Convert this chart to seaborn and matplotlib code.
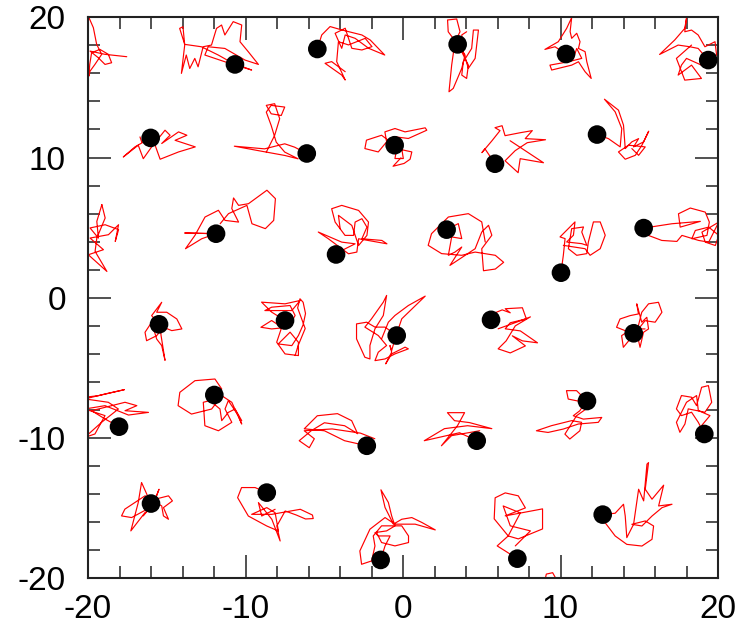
import matplotlib
matplotlib.use("Agg")
import matplotlib.pyplot as plt
import seaborn as sns
import pandas as pd
from matplotlib.ticker import MultipleLocator

# particle positions (data units)
particle_x = [-10.67, -5.44, 3.47, 10.35, 19.38, -16.02, -6.11, -0.53, 5.84, 12.32,
              -11.87, -4.25, 2.77, 10.03, 15.28, -15.49, -7.49, -0.40, 5.59, 14.65,
              -11.98, -18.03, -2.30, 4.68, 11.68, 19.13, -16.00, -8.65, -1.42, 7.26, 12.68]
particle_y = [16.64, 17.74, 18.07, 17.38, 16.95, 11.40, 10.29, 10.88, 9.56, 11.64,
              4.57, 3.09, 4.86, 1.79, 4.97, -1.89, -1.62, -2.69, -1.57, -2.53,
              -6.93, -9.19, -10.55, -10.19, -7.36, -9.71, -14.67, -13.89, -18.69, -18.60, -15.46]

# trajectories: displacement of each particle from its marked position
path_01 = [(0,0),(-1.06,0.67),(-2.13,1.26),(-3.19,1.43),(-3.51,2.57),(-3.30,2.69),(-3.19,1.38),(-3.40,-0.64),(-3.09,0.67),(-2.87,-0.29),(-2.55,0.43),(-2.34,-0.17),(-2.02,1.26),(-1.49,1.38),(-1.17,2.57),(-0.85,2.81),(-0.64,2.10),(-0.11,3.05),(0.43,2.81),(0.32,1.62),(0.85,0.90),(1.49,0),(0.64,0.31),(-0.64,1.14),(-1.70,1.26),(-1.91,0.67),(-0.64,0.19),(1.06,-0.40),(0.21,-0.05)]
path_02 = [(0,0),(0.28,1.0),(0.81,1.6),(1.55,1.36),(2.83,1.0),(3.36,0.64),(4.28,-0.43),(3.26,0.05),(2.40,0.76),(1.77,1.0),(1.55,0.05),(1.13,1.12),(1.77,1.48),(2.19,0.05),(2.83,-0.07),(3.47,0.17),(3.04,0.76),(1.98,0.29),(1.34,0.52),(1.23,-0.9),(1.77,-2.21),(1.55,-1.86),(0.49,-1.02),(0.91,-0.90),(1.77,-1.62)]
path_03 = [(0,0),(-0.60,0.90),(-0.64,1.74),(-0.06,1.81),(0.15,0.90),(-0.17,0.19),(-0.38,-1.48),(-0.55,-3.38),(-0.28,-3.14),(0.26,-1.71),(0.47,-0.76),(0.15,-0.29),(0.68,-1.48),(0.57,-2.43),(0.26,-2.19),(0.36,-1.24),(0.89,-0.29),(1.0,1.02),(1.32,1.02),(1.11,-1.0),(0.68,-1.71),(0.36,-0.52),(0.26,0.67),(0.57,0.90)]
path_04 = [(0,0),(-0.70,0.52),(-1.34,0.33),(-0.49,0.88),(0.04,1.83),(0.36,2.6),(0.26,1.6),(0.36,1.12),(0.68,1.48),(0.89,0.88),(0.79,0.40),(1.21,0.17),(1.32,-0.55),(1.60,-1.74),(1.21,-1.26),(0.79,-0.55),(0.36,-0.79),(-0.91,-1.14),(-1.02,-0.79),(0.15,-0.55),(1.0,-0.31),(0.68,0.40),(0.47,-0.31)]
path_05 = [(0,0),(-0.64,0.83),(-1.17,0.95),(-1.91,1.07),(-3.09,0.40),(-2.13,1.43),(-1.49,2.26),(-1.38,2.98),(-1.49,2.02),(-1.06,2.14),(-0.64,1.79),(-0.21,0.95),(0.43,1.31),(0.53,0.36),(-0.21,-0.12),(-0.43,-0.36),(-1.38,0.12),(-1.70,-0.36),(-1.91,-1.07),(-1.06,-0.36),(-0.43,-1.31),(-1.49,-1.43),(-2.02,0.12),(-1.06,1.07)]
path_06 = [(0,0),(-1.0,-0.64),(-1.74,-1.36),(-0.79,-0.52),(-0.47,-1.48),(0.06,-0.64),(0.91,0.55),(1.23,0.19),(0.70,-0.40),(1.77,0.43),(2.30,0.19),(1.55,-0.17),(2.83,-0.64),(1.77,-1.0),(0.60,-1.52),(0.28,-0.52),(-0.57,-0.29),(-0.68,0.07)]
path_07 = [(0,0),(-0.77,0.45),(-1.40,0.69),(-2.68,0.33),(-4.6,0.52),(-3.11,0.21),(-1.40,-0.14),(-0.55,-0.38),(-1.40,0.10),(-1.94,0.81),(-2.26,2.0),(-2.57,2.95),(-2.26,3.43),(-1.40,3.31),(-1.62,2.71),(-2.26,2.83),(-2.57,3.43),(-2.04,3.55),(-1.72,2.48),(-2.04,1.29),(-2.57,0.10)]
path_08 = [(0,0),(-0.83,0.71),(-1.79,0.36),(-1.89,-0.24),(-1.04,-0.48),(-0.51,0.24),(-0.62,0.95),(0.02,1.19),(0.66,0.95),(1.94,1.24),(2.04,1.07),(0.87,0.48),(0.02,0.60),(0.45,-0.24),(0.55,-0.95),(0.02,-0.95),(0.13,-0.24),(1.09,-0.48),(0.98,-1.0),(0.6,-1.3),(-0.1,-1.5),(0.4,-0.9)]
path_09 = [(0,0),(-0.64,1.07),(-0.83,0.79),(-0.19,1.64),(0.32,2.36),(0,2.57),(0.45,2.71),(0.64,2.0),(1.60,2.21),(2.37,2.36),(1.92,1.79),(3.21,1.71),(2.05,1.50),(1.28,0.93),(0.64,0.21),(1.47,-0.64),(1.60,0.36),(3.08,0.07),(1.92,0.93),(0.96,1.64)]
path_10 = [(0,0),(0.72,-0.29),(1.47,-0.88),(1.57,0.43),(1.15,1.62),(0.47,2.52),(1.36,1.74),(1.68,0.67),(1.79,-1.0),(2.21,-0.52),(2.64,-0.29),(2.32,-0.88),(2.96,-0.52),(3.28,0.24),(2.85,-0.76),(2.43,-1.48),(1.79,-1.76),(1.36,-1.24),(2.0,-0.76),(3.06,-0.88),(2.64,-1.48),(2.21,-1.0)]
path_11 = [(0,0),(-1.98,0.05),(0,0),(-0.91,-0.36),(-1.94,-1.07),(-1.34,-0.12),(-0.70,1.19),(0.15,1.67),(0.57,0.95),(1.43,0.83),(1.0,1.79),(1.11,2.55),(1.43,2.02),(2.06,2.14),(3.23,3.10),(3.77,2.50),(3.66,0.95),(3.13,0.36),(2.28,0.71),(1.96,2.02),(0.79,1.43),(0.26,0.71)]
path_12 = [(0,0),(0.57,0.40),(1.21,0.76),(0.36,0.88),(-1.13,1.60),(-0.49,1.12),(0.79,0.05),(1.32,0.17),(1.43,1.12),(3.23,0.76),(2.91,1.0),(1.64,1.12),(1.96,1.95),(1.64,2.55),(1.21,2.31),(1.11,1.36),(0.57,1.36),(-0.06,2.31),(-0.28,3.26),(0.36,3.50),(1.43,3.14),(2.06,2.31),(1.96,1.36),(1.43,0.64),(1.0,2.07),(0.15,2.79),(0.26,1.83)]
path_13 = [(0,0),(0.74,0.43),(0.96,-0.64),(0.32,-0.52),(0.11,-1.83),(0.53,-1.60),(0.96,-1.24),(0.21,-2.55),(1.81,-1.36),(2.23,-0.17),(2.66,0.31),(2.87,-0.40),(2.23,-1.36),(2.34,-2.93),(3.09,-2.81),(3.62,-2.33),(3.09,-1.83),(1.81,-1.60),(0.96,-1.83),(-0.32,-1.71),(-1.17,-1.12),(-0.96,-0.29),(0.11,0.90),(1.38,1.14),(2.23,0.55),(2.45,-0.88)]
path_14 = [(0,0),(0.15,1.24),(0.26,2.43),(-0.06,2.55),(0.57,3.26),(0.89,3.62),(0.79,2.67),(0.36,2.19),(1.32,2.07),(1.64,1.95),(1.32,2.90),(1.43,3.26),(0.68,3.14),(0.47,1.71),(1.0,1.24),(1.64,1.36),(1.74,2.19),(2.06,3.62),(2.49,3.62),(2.81,2.67),(2.49,1.71),(1.85,1.24),(1.53,1.71),(0.15,1.95)]
path_15 = [(0,0),(1.79,0.31),(3.60,0.48),(2.32,0.07),(2.21,1.02),(2.96,1.43),(3.91,1.14),(4.17,0.43),(4.02,-0.52),(3.06,-0.76),(3.28,-0.17),(4.13,0.07),(4.77,-0.52),(4.55,-1.24),(3.91,-1.0),(3.70,-0.29),(4.77,0.43),(4.13,-1.0),(3.49,-0.88),(2.43,-0.52),(2.11,-0.95),(1.15,-0.88),(0.30,-0.52)]
path_16 = [(0,0),(-0.47,0.62),(0.17,1.57),(-0.15,0.86),(0.49,0.86),(1.13,0.38),(1.45,-0.33),(0.81,-0.45),(0.28,-0.21),(-0.15,-0.81),(-0.79,-1.17),(-0.89,-0.57),(-0.47,0.14),(-0.15,-1.05),(0.17,-1.52),(0.38,-2.57),(0.13,-0.81),(0.06,-0.10)]
path_17 = [(0,0),(-0.85,0.60),(-1.49,1.31),(0,1.19),(0.96,1.43),(0.43,0.71),(-1.28,0.71),(-0.85,0.95),(0.32,1.07),(0.64,0.36),(0.21,-0.48),(-0.85,-0.60),(-1.53,-0.48),(-0.85,0),(-0.21,-0.48),(-0.53,-1.55),(0,-2.38),(0.85,-2.50),(0.85,-1.55),(0.32,-0.83),(-0.43,-1.67),(0.43,-1.79),(0.85,-1.07),(1.15,-0.3),(1.3,0.5),(1.15,1.3),(0.95,1.55),(0.8,0.9),(1.28,-0.57),(0.83,-1.79),(0.64,-2.5)]
path_18 = [(0,0),(-0.74,0.60),(-1.38,0.60),(-1.91,0.95),(-2.55,0.83),(-2.55,-0.24),(-2.02,-1.55),(-1.70,-1.67),(-1.70,-0.71),(-1.38,0.48),(-0.85,1.43),(-0.64,2.86),(-0.85,2.38),(-1.60,1.19),(-2.02,0.60),(-1.17,0),(-0.64,-0.71),(-1.17,-1.19),(-1.38,-1.79),(-0.74,-1.67),(-0.11,-1.31),(0.74,-0.95),(0.53,-0.83),(-0.32,-1.31),(-0.70,-2.02),(-0.32,-1.19),(-0.43,-0.71),(-0.32,-1.07),(-0.11,-0.24),(0.32,1.19),(1.81,2.81),(0.74,2.14),(-0.11,1.43),(-0.53,0.95),(-0.96,-0.24)]
path_19 = [(0,0),(-0.51,-0.21),(0.26,0.50),(0.71,0.71),(1.22,0.50),(0.90,0.79),(1.99,0.86),(2.24,0.07),(1.22,-0.21),(0.90,-0.64),(1.86,-0.79),(2.95,-1.64),(1.99,-1.50),(1.35,-1.14),(2.18,-1.86),(1.22,-2.36),(0.45,-2.07),(0.96,-1.50),(1.54,-0.43),(2.50,0.21),(1.86,-0.07),(0.45,-0.64)]
path_20 = [(0,0),(-0.55,0.19),(-1.09,0.43),(-0.87,1.02),(-0.23,1.26),(0.30,1.38),(0.19,2.10),(0.51,0.79),(0.83,1.14),(0.94,0.31),(0.62,0.07),(0.40,-1.0),(0.19,0.07),(0.51,1.50),(0.94,2.10),(1.57,2.21),(1.79,1.50),(1.36,0.79),(0.72,0.90),(0.30,0.31),(-0.66,-1.0),(-0.77,-0.17),(-0.13,0.31),(0.72,0.31)]
path_21 = [(0,0),(0.47,0.43),(0.04,1.14),(-1.23,1.02),(-2.19,0.19),(-2.30,-0.76),(-1.45,-1.36),(-0.17,-1.0),(0.47,-0.05),(1.11,-0.52),(1.74,-2.07),(1.53,-1.48),(0.89,-0.40),(0.68,-1.0),(1.11,-1.95),(0.26,-2.55),(-0.60,-2.19),(-0.70,-0.52),(-0.28,-0.40),(0.36,-1.0),(0.47,-1.83),(0.89,-1.24),(1.32,-1.0),(1.74,-1.83)]
path_22 = [(0,0),(-0.89,0.55),(-1.74,1.14),(0.38,1.74),(1.13,1.50),(0.38,1.14),(1.87,1.02),(0.60,0.83),(-0.89,1.50),(-2.17,1.26),(-0.89,0.79),(-1.53,-0.52),(-2.17,-0.76),(-1.11,0.31),(-0.04,1.26),(-0.68,1.74),(-2.17,1.98),(-0.89,2.33),(0.34,2.64),(-1.32,2.21),(-2.17,2.10)]
path_23 = [(0,0),(-1.41,0.36),(-2.69,1.07),(-3.97,1.21),(-3.14,2.14),(-1.86,2.29),(-0.96,1.79),(-0.58,0.86),(-1.41,1.43),(-2.69,1.64),(-3.53,1.07),(-4.29,0.36),(-3.65,-0.14),(-3.33,0.50),(-3.97,1.07),(-2.2,1.2),(-0.4,0.9),(0.51,0.5)]
path_24 = [(0,0),(-1.09,0.57),(-3.33,0),(-2.05,0.86),(-0.58,1.07),(0.96,0.86),(-0.45,1.29),(-1.41,1.43),(-1.86,2.0),(-0.77,2.0),(-1.22,1.07),(-2.24,-0.36),(-1.60,0.36),(0.19,0.71)]
path_25 = [(0,0),(-0.66,0.74),(-1.30,0.74),(-1.19,0.14),(-0.13,-0.10),(-0.45,-0.69),(-0.87,-1.05),(-0.23,-1.29),(0.94,-1.17),(0.72,-1.52),(-0.55,-1.64),(-1.51,-2.0),(-2.47,-2.24),(-3.21,-2.12),(-2.26,-1.76),(-0.98,-1.40),(-0.34,-1.52),(-0.45,-2.12),(-1.09,-2.71),(-1.40,-2.36),(-0.66,-1.05),(0.09,-0.45)]
path_26 = [(0,0),(-0.38,0.83),(-0.81,1.55),(-1.45,1.31),(-1.77,1.79),(-1.45,2.74),(-0.81,2.62),(-0.49,2.02),(-0.17,3.33),(0.26,3.45),(0.47,2.26),(0.04,1.55),(-1.02,1.79),(-1.23,0.71),(-1.55,0.12),(-1.77,0.83),(-1.13,2.26),(-0.49,2.74),(-0.38,1.67),(0.36,1.31),(-0.17,0.60)]
path_27 = [(0,0),(-0.60,1.50),(-0.81,0.07),(-1.28,-1.95),(-0.38,-0.64),(0.04,-0.40),(0.51,1.02),(0.26,0.31),(1.11,0.55),(1.36,0.19),(0.79,-0.29),(1.11,-1.12),(0.79,-0.88),(0.68,-0.17),(-0.38,0.55),(-1.66,-0.40),(-1.87,-0.88),(-1.23,-1.0),(-0.06,-0.29),(-0.49,-0.88)]
path_28 = [(0,0),(-0.74,0.36),(-1.60,0.36),(-1.85,-0.36),(-1.17,-1.67),(0,-2.38),(0.74,-2.74),(0.53,-1.43),(0,-1.07),(-0.96,-1.55),(0.32,-1.55),(2.13,-1.19),(2.9,-1.6),(2.95,-1.85),(2.46,-1.88),(1.88,-1.6),(1.17,-1.31),(0.64,-2.38),(0.85,-3.45),(0.32,-1.90),(-0.53,-0.71),(-0.32,-1.67),(0.53,-1.19)]
path_29 = [(0,0),(0.28,1.0),(0.60,1.71),(-0.15,1.71),(-0.36,1.95),(0.38,2.07),(0.91,2.43),(0.70,3.14),(0.49,4.10),(0.02,5.0),(0.28,3.74),(0.81,2.55),(1.34,2.90),(1.98,3.02),(2.62,2.67),(3.47,2.14),(2.19,2.55),(0.91,2.55),(0.28,3.02),(-0.68,2.19),(-1.32,0.64),(-1.21,-0.31),(-0.57,-0.07),(-0.36,1.0),(-0.47,1.71),(0.06,2.43),(1.34,2.43),(1.77,1.71),(1.77,1.24),(0.91,1.0),(0.06,1.24),(-0.26,1.95)]
path_30 = [(0,0),(-0.77,0.55),(-1.28,0.91),(-0.58,1.62),(-1.47,2.84),(-1.41,4.34),(-0.77,4.69),(0.06,4.48),(0.51,3.62),(-0.77,3.05),(1.60,3.55),(1.60,2.12),(0.06,1.41),(-0.58,1.62),(0.19,3.26),(-0.90,3.76),(-0.45,2.34),(0.83,1.98),(-0.13,0.91)]
path_31 = [(0,0),(0.79,0.10),(1.32,0.74),(1.43,-0.10),(1.53,-1.64),(1.96,-0.69),(2.28,1.81),(2.60,0.98),(2.81,3.60),(2.91,3.71),(2.70,1.81),(3.13,1.10),(3.87,2.10),(3.55,0.62),(4.40,0.74),(3.77,0.50),(3.13,-0.10),(2.49,-0.81),(1.85,-0.69),(2.70,-0.45),(3.23,-0.81),(3.13,-1.76),(2.49,-2.24),(1.53,-2.12),(0.79,-1.52),(0.15,-0.57)]

# track pieces that re-enter through the box edges (absolute data coords)
edge_top_left = [(-19.94,19.98),(-19.66,19.26),(-19.45,18.07),(-19.13,17.36),(-19.56,16.64),(-19.87,16.16),(-19.94,15.81),(-19.89,16.64),(-19.77,17.48),(-19.24,17.71),(-18.71,17.36),(-18.50,16.76),(-18.92,16.64),(-19.35,17.12),(-19.87,17.59),(-18.92,17.36),(-17.54,17.19)]
edge_left_mid = [(-19.12,6.64),(-19.44,5.45),(-19.34,4.26),(-19.87,4.98),(-18.91,5.21),(-18.06,4.86),(-18.27,4.02),(-18.06,5.21),(-18.70,4.5),(-19.87,4.26),(-19.02,3.43),(-19.98,3.07),(-18.80,1.88),(-19.55,3.31),(-19.44,4.26),(-18.91,5.69),(-19.12,6.64)]
edge_bottom = [(9.0,-20.2),(9.1,-19.7),(9.5,-19.6),(9.8,-20.2)]

paths = [path_01, path_02, path_03, path_04, path_05, path_06, path_07, path_08, path_09, path_10,
         path_11, path_12, path_13, path_14, path_15, path_16, path_17, path_18, path_19, path_20,
         path_21, path_22, path_23, path_24, path_25, path_26, path_27, path_28, path_29, path_30, path_31]
edges = [edge_top_left, edge_left_mid, edge_bottom]

rows = []
for i, (px, py, p) in enumerate(zip(particle_x, particle_y, paths)):
    for k, (dx, dy) in enumerate(p):
        rows.append({"track": i, "step": k, "x": px + dx, "y": py + dy})
for j, e in enumerate(edges):
    for k, (x, y) in enumerate(e):
        rows.append({"track": 100 + j, "step": k, "x": x, "y": y})
tracks = pd.DataFrame(rows)
dots = pd.DataFrame({"x": particle_x, "y": particle_y})

sns.set_theme(style="white")
plt.rcParams["font.family"] = ["Liberation Sans", "DejaVu Sans"]
plt.rcParams["axes.unicode_minus"] = False

fig = plt.figure(figsize=(7.4, 6.4), dpi=100)
ax = fig.add_axes([88/740, 1 - 578.3/640, 630/740, 561/640])

sns.lineplot(data=tracks, x="x", y="y", units="track", estimator=None, sort=False,
             color="#ff0000", lw=0.85, ax=ax, legend=False)
sns.scatterplot(data=dots, x="x", y="y", s=180, color="black", edgecolor="none",
                ax=ax, zorder=5, clip_on=False, legend=False)

ax.set_xlim(-20, 20)
ax.set_ylim(-20, 20)
ax.set_xlabel("")
ax.set_ylabel("")
ax.xaxis.set_major_locator(MultipleLocator(10))
ax.yaxis.set_major_locator(MultipleLocator(10))
ax.xaxis.set_minor_locator(MultipleLocator(2))
ax.yaxis.set_minor_locator(MultipleLocator(2))
ax.tick_params(which="both", direction="in", top=True, right=True, bottom=True, left=True,
               color="#222222", width=1.1)
ax.tick_params(which="major", length=16.5, labelsize=24, labelcolor="black")
ax.tick_params(axis="x", which="major", pad=11)
ax.tick_params(axis="y", which="major", pad=16)
ax.tick_params(which="minor", length=8.5)
for s in ax.spines.values():
    s.set_visible(True)
    s.set_color("#222222")
    s.set_linewidth(1.5)

fig.savefig("out.png", dpi=100)
